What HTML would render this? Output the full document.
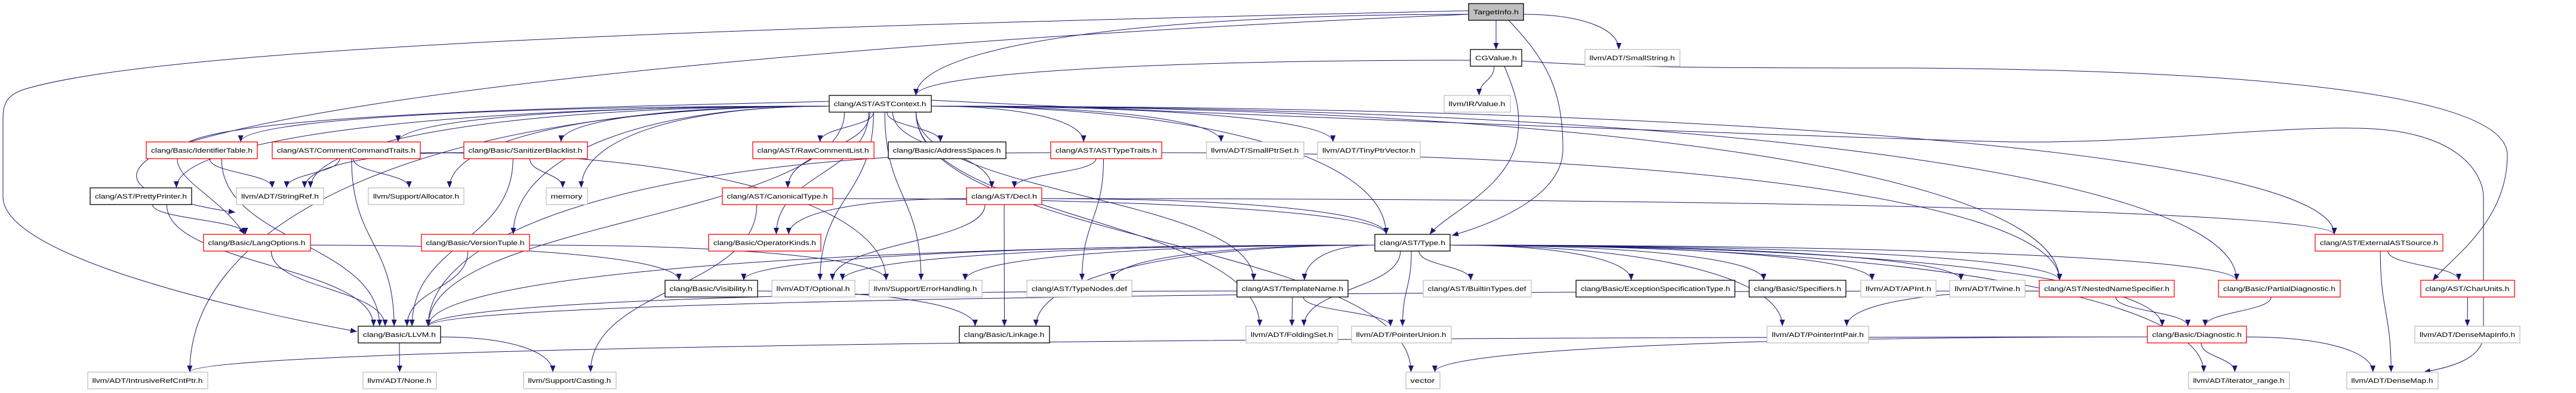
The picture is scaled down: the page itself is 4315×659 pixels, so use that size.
<!DOCTYPE html>
<html><head><meta charset="utf-8">
<style>
html,body{margin:0;padding:0;background:#fff;}
svg{display:block}
text{font-family:"Liberation Sans",Arial,sans-serif;font-size:11px;fill:#000;}
.r rect{fill:#fff;stroke:#ff0000;stroke-width:1.3}
.k rect{fill:#fff;stroke:#000;stroke-width:1.3}
.g rect{fill:#fff;stroke:#bfbfbf;stroke-width:1.3}
.t rect{fill:#bfbfbf;stroke:#000;stroke-width:1.3}
#E path{fill:none;stroke:#191970;stroke-width:1}
</style></head><body>
<svg id="S" width="4315" height="659" viewBox="0 0 4315 659" xmlns="http://www.w3.org/2000/svg">
<defs><marker id="a" markerUnits="userSpaceOnUse" markerWidth="12" markerHeight="10" refX="11" refY="4.5" orient="auto"><path d="M0,0 L11,4.5 L0,9 z" fill="#191970"/></marker></defs>
<g id="E"></g>
<g id="N">
<g id="TI" class="t"><rect x="2460" y="6" width="92" height="28"/><text x="2506" y="24" text-anchor="middle">TargetInfo.h</text></g>
<g id="CG" class="k"><rect x="2463" y="83" width="86" height="28"/><text x="2506" y="101" text-anchor="middle">CGValue.h</text></g>
<g id="SS" class="g"><rect x="2655" y="83" width="159" height="28"/><text x="2734" y="101" text-anchor="middle">llvm/ADT/SmallString.h</text></g>
<g id="AC" class="k"><rect x="1389" y="160" width="171" height="28"/><text x="1474" y="178" text-anchor="middle">clang/AST/ASTContext.h</text></g>
<g id="VA" class="g"><rect x="2419" y="160" width="111" height="28"/><text x="2474" y="178" text-anchor="middle">llvm/IR/Value.h</text></g>
<g id="IT" class="r"><rect x="245" y="238" width="186" height="28"/><text x="338" y="256" text-anchor="middle">clang/Basic/IdentifierTable.h</text></g>
<g id="CC" class="r"><rect x="456" y="238" width="248" height="28"/><text x="580" y="256" text-anchor="middle">clang/AST/CommentCommandTraits.h</text></g>
<g id="SB" class="r"><rect x="777" y="238" width="207" height="28"/><text x="880" y="256" text-anchor="middle">clang/Basic/SanitizerBlacklist.h</text></g>
<g id="RC" class="r"><rect x="1261" y="238" width="203" height="28"/><text x="1362" y="256" text-anchor="middle">clang/AST/RawCommentList.h</text></g>
<g id="AS" class="k"><rect x="1488" y="238" width="197" height="28"/><text x="1586" y="256" text-anchor="middle">clang/Basic/AddressSpaces.h</text></g>
<g id="TT" class="r"><rect x="1760" y="238" width="186" height="28"/><text x="1853" y="256" text-anchor="middle">clang/AST/ASTTypeTraits.h</text></g>
<g id="SP" class="g"><rect x="2021" y="238" width="163" height="28"/><text x="2102" y="256" text-anchor="middle">llvm/ADT/SmallPtrSet.h</text></g>
<g id="TV" class="g"><rect x="2207" y="238" width="172" height="28"/><text x="2293" y="256" text-anchor="middle">llvm/ADT/TinyPtrVector.h</text></g>
<g id="PP" class="k"><rect x="151" y="315" width="170" height="28"/><text x="236" y="333" text-anchor="middle">clang/AST/PrettyPrinter.h</text></g>
<g id="SR" class="g"><rect x="396" y="315" width="146" height="28"/><text x="469" y="333" text-anchor="middle">llvm/ADT/StringRef.h</text></g>
<g id="AL" class="g"><rect x="617" y="315" width="160" height="28"/><text x="697" y="333" text-anchor="middle">llvm/Support/Allocator.h</text></g>
<g id="ME" class="g"><rect x="915" y="315" width="69" height="28"/><text x="949" y="333" text-anchor="middle">memory</text></g>
<g id="CT" class="r"><rect x="1210" y="315" width="185" height="28"/><text x="1302" y="333" text-anchor="middle">clang/AST/CanonicalType.h</text></g>
<g id="DE" class="r"><rect x="1619" y="315" width="126" height="28"/><text x="1682" y="333" text-anchor="middle">clang/AST/Decl.h</text></g>
<g id="LO" class="r"><rect x="341" y="393" width="179" height="28"/><text x="430" y="411" text-anchor="middle">clang/Basic/LangOptions.h</text></g>
<g id="VT" class="r"><rect x="706" y="393" width="181" height="28"/><text x="796" y="411" text-anchor="middle">clang/Basic/VersionTuple.h</text></g>
<g id="OK" class="r"><rect x="1187" y="393" width="188" height="28"/><text x="1281" y="411" text-anchor="middle">clang/Basic/OperatorKinds.h</text></g>
<g id="TY" class="k"><rect x="2303" y="393" width="126" height="28"/><text x="2366" y="411" text-anchor="middle">clang/AST/Type.h</text></g>
<g id="EX" class="r"><rect x="3878" y="393" width="214" height="28"/><text x="3985" y="411" text-anchor="middle">clang/AST/ExternalASTSource.h</text></g>
<g id="VI" class="k"><rect x="1114" y="470" width="155" height="28"/><text x="1191" y="488" text-anchor="middle">clang/Basic/Visibility.h</text></g>
<g id="OP" class="g"><rect x="1293" y="470" width="139" height="28"/><text x="1362" y="488" text-anchor="middle">llvm/ADT/Optional.h</text></g>
<g id="EH" class="g"><rect x="1456" y="470" width="189" height="28"/><text x="1550" y="488" text-anchor="middle">llvm/Support/ErrorHandling.h</text></g>
<g id="TN" class="g"><rect x="1720" y="470" width="176" height="28"/><text x="1808" y="488" text-anchor="middle">clang/AST/TypeNodes.def</text></g>
<g id="TM" class="k"><rect x="2072" y="470" width="186" height="28"/><text x="2165" y="488" text-anchor="middle">clang/AST/TemplateName.h</text></g>
<g id="BT" class="g"><rect x="2384" y="470" width="181" height="28"/><text x="2474" y="488" text-anchor="middle">clang/AST/BuiltinTypes.def</text></g>
<g id="ES" class="k"><rect x="2640" y="470" width="266" height="28"/><text x="2773" y="488" text-anchor="middle">clang/Basic/ExceptionSpecificationType.h</text></g>
<g id="SC" class="k"><rect x="2930" y="470" width="162" height="28"/><text x="3011" y="488" text-anchor="middle">clang/Basic/Specifiers.h</text></g>
<g id="AP" class="g"><rect x="3117" y="470" width="126" height="28"/><text x="3180" y="488" text-anchor="middle">llvm/ADT/APInt.h</text></g>
<g id="TW" class="g"><rect x="3266" y="470" width="126" height="28"/><text x="3329" y="488" text-anchor="middle">llvm/ADT/Twine.h</text></g>
<g id="NN" class="r"><rect x="3416" y="470" width="226" height="28"/><text x="3529" y="488" text-anchor="middle">clang/AST/NestedNameSpecifier.h</text></g>
<g id="PD" class="r"><rect x="3716" y="470" width="204" height="28"/><text x="3818" y="488" text-anchor="middle">clang/Basic/PartialDiagnostic.h</text></g>
<g id="CU" class="r"><rect x="4055" y="470" width="157" height="28"/><text x="4133" y="488" text-anchor="middle">clang/AST/CharUnits.h</text></g>
<g id="LL" class="k"><rect x="600" y="547" width="138" height="28"/><text x="669" y="565" text-anchor="middle">clang/Basic/LLVM.h</text></g>
<g id="LK" class="k"><rect x="1607" y="547" width="151" height="28"/><text x="1682" y="565" text-anchor="middle">clang/Basic/Linkage.h</text></g>
<g id="FS" class="g"><rect x="2087" y="547" width="154" height="28"/><text x="2164" y="565" text-anchor="middle">llvm/ADT/FoldingSet.h</text></g>
<g id="PU" class="g"><rect x="2264" y="547" width="167" height="28"/><text x="2347" y="565" text-anchor="middle">llvm/ADT/PointerUnion.h</text></g>
<g id="PI" class="g"><rect x="2960" y="547" width="170" height="28"/><text x="3045" y="565" text-anchor="middle">llvm/ADT/PointerIntPair.h</text></g>
<g id="DG" class="r"><rect x="3597" y="547" width="166" height="28"/><text x="3680" y="565" text-anchor="middle">clang/Basic/Diagnostic.h</text></g>
<g id="DI" class="g"><rect x="4045" y="547" width="176" height="28"/><text x="4133" y="565" text-anchor="middle">llvm/ADT/DenseMapInfo.h</text></g>
<g id="IR" class="g"><rect x="147" y="624" width="201" height="28"/><text x="247" y="642" text-anchor="middle">llvm/ADT/IntrusiveRefCntPtr.h</text></g>
<g id="NO" class="g"><rect x="608" y="624" width="123" height="28"/><text x="669" y="642" text-anchor="middle">llvm/ADT/None.h</text></g>
<g id="CA" class="g"><rect x="877" y="624" width="155" height="28"/><text x="954" y="642" text-anchor="middle">llvm/Support/Casting.h</text></g>
<g id="VE" class="g"><rect x="2355" y="624" width="57" height="28"/><text x="2383" y="642" text-anchor="middle">vector</text></g>
<g id="IRn" class="g"><rect x="3666" y="624" width="169" height="28"/><text x="3750" y="642" text-anchor="middle">llvm/ADT/iterator_range.h</text></g>
<g id="DM" class="g"><rect x="3931" y="624" width="153" height="28"/><text x="4007" y="642" text-anchor="middle">llvm/ADT/DenseMap.h</text></g>
</g>
</svg>
<script>
(function(){
var NS="http://www.w3.org/2000/svg",E=document.getElementById("E");
function box(id){var r=document.querySelector("#"+id+" rect");return{x:+r.getAttribute("x"),y:+r.getAttribute("y"),w:+r.getAttribute("width"),h:+r.getAttribute("height")};}
document.querySelectorAll("#N g").forEach(function(g){var b=box(g.id),t=g.querySelector("text");t.setAttribute("textLength",b.w-16);t.setAttribute("lengthAdjust","spacingAndGlyphs");});
function add(d){var p=document.createElementNS(NS,"path");p.setAttribute("d",d);p.setAttribute("marker-end","url(#a)");E.appendChild(p);}
function edge(a,b){var A=box(a),B=box(b);
 var ax=A.x+A.w/2,ay=A.y+A.h/2,bx=B.x+B.w/2,by=B.y+B.h/2,dx=bx-ax,dy=by-ay,sx,sy,tx,ty,sd=dx>0?1:-1;
 var side=Math.abs(dx)>2.5*Math.abs(dy);
 if(side){sx=dx>0?A.x+A.w:A.x;sy=ay+4;}else{sx=ax+Math.max(-A.w*0.35,Math.min(A.w*0.35,dx*0.1));sy=A.y+A.h;}
 var off=Math.min(B.w*0.35,Math.abs(dx)*0.1);
 tx=bx-sd*off;ty=B.y;
 if(side){add("M"+sx+","+sy+" C"+(sx+(tx-sx)*0.6)+","+sy+" "+tx+","+(ty-(ty-sy)*0.6)+" "+tx+","+ty);return;}
 var m=(ty-sy)/2;add("M"+sx+","+sy+" C"+sx+","+(sy+m)+" "+tx+","+(ty-m)+" "+tx+","+ty);}
var L=[
"TI CG","TI SS","TI AC","CG AC","CG VA",
"AC IT","AC CC","AC SB","AC RC","AC AS","AC TT","AC SP","AC TV","AC PP","AC SR","AC AL","AC ME","AC CT","AC DE","AC OK","AC VT","AC LL","AC IR","AC TY","AC TM","AC FS","AC EX","AC NN","AC PD","AC VE","AC EH","AC OP",
"IT SR","IT LL","CC SR","CC AL","CC LL","CC EH","SB SR","SB LL","SB ME","PP LO","PP LL","LO LL","LO VI","VT LL","VT EH",
"TT DE","TT TN","TT LL","TT NN","CT TY","CT CA","DE OK","DE TY","DE OP","DE LK","DE EX",
"TY VI","TY OP","TY EH","TY TN","TY TM","TY BT","TY ES","TY SC","TY AP","TY TW","TY NN","TY PD","TY DG","TY FS","TY PU","TY PI","TY LL","TY LK","TY IRn",
"TM LL","TM FS","TM PU","VI LK","NN DG","NN PI","NN LL","PD DG","EX CU","EX DM","CU DI","DG IRn","DG DM","DG IR","DG VE","LL NO","LL CA"];
L.forEach(function(s){var p=s.split(" ");edge(p[0],p[1]);});
add("M2527,34 C2590,100 2618,150 2618,250 C2618,330 2500,375 2432,395");
add("M2520,111 C2540,160 2550,190 2540,240 C2520,320 2420,360 2395,393");
add("M2460,18 C1500,40 300,70 40,150 C10,160 5,175 5,200 L5,330 C5,430 400,520 598,556");
add("M2460,24 C1600,60 600,140 280,250 C230,270 210,300 250,320 C300,340 350,350 394,356");
add("M1389,170 C1000,180 330,190 300,250 C280,300 360,320 410,393");
add("M2549,102 C2700,115 3000,114 3200,114 C3800,118 4200,160 4200,260 C4200,370 4110,430 4075,470");
add("M1560,168 C2200,200 3300,238 3380,238 C3600,240 3800,212 3950,215 C4130,218 4160,300 4160,330 L4160,560 C4160,600 4110,615 4060,624");
})();
</script>
</body></html>
